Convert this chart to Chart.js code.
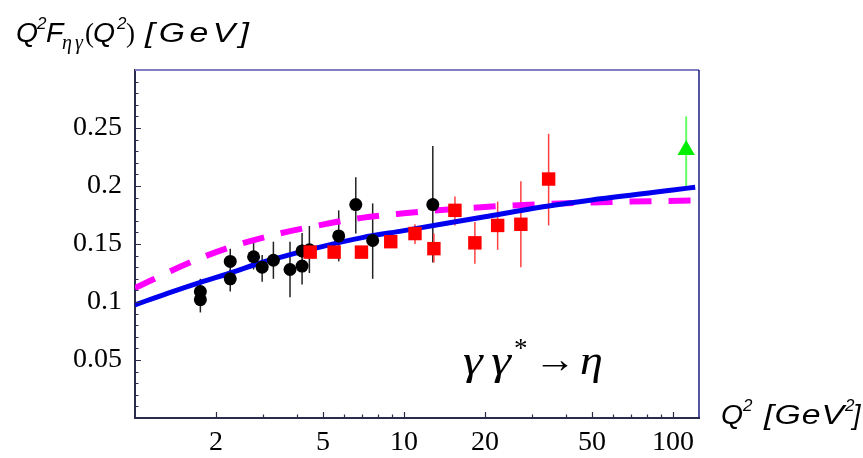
<!DOCTYPE html>
<html>
<head>
    <title>Q2 F eta gamma</title>
    <script src="https://cdn.jsdelivr.net/npm/chart.js"></script>
    <style>
        body { margin: 0; background: #fff; }
        #wrap { width: 863px; height: 458px; }
    </style>
</head>
<body>
    <div id="wrap"><canvas id="fChart" width="863" height="458"></canvas></div>

    <script>
        // tick labels
        const xTicks = [2, 5, 10, 20, 50, 100];
        const xMinor = [3, 4, 6, 7, 8, 9, 30, 40, 60, 70, 80, 90];
        const yTicks = [0.05, 0.1, 0.15, 0.2, 0.25];

        // black circles
        const blackX = [1.75, 1.75, 2.26, 2.26, 2.76, 2.97, 3.27, 3.77, 4.18, 4.18, 4.45, 5.72, 6.62, 7.65, 12.8];
        const blackY = [0.109, 0.102, 0.135, 0.120, 0.139, 0.130, 0.136, 0.128, 0.144, 0.131, 0.145, 0.157, 0.184, 0.153, 0.184];
        const blackHi = [0.120, 0.107, 0.146, 0.128, 0.151, 0.1405, 0.152, 0.152, 0.150, 0.1595, 0.1655, 0.179, 0.2075, 0.185, 0.2345];
        const blackLo = [0.100, 0.091, 0.125, 0.109, 0.128, 0.1175, 0.120, 0.104, 0.138, 0.115, 0.125, 0.135, 0.159, 0.120, 0.134];

        // red squares
        const redX = [4.48, 5.5, 6.95, 8.93, 10.99, 12.92, 15.47, 18.35, 22.3, 27.2, 34.5];
        const redY = [0.143, 0.143, 0.143, 0.152, 0.159, 0.146, 0.179, 0.151, 0.166, 0.167, 0.206];
        const redHi = [0.147, 0.147, 0.147, 0.156, 0.167, 0.159, 0.191, 0.169, 0.1865, 0.204, 0.245];
        const redLo = [0.139, 0.139, 0.139, 0.148, 0.150, 0.134, 0.166, 0.133, 0.145, 0.130, 0.166];

        // green triangle
        const greenX = [112];
        const greenY = [0.231];
        const greenHi = [0.260];
        const greenLo = [0.200];

        // curves
        const blueX = [1, 1.32, 1.75, 2.26, 3, 5, 7, 10, 20, 34, 50, 100, 121];
        const blueY = [0.0975, 0.1075, 0.117, 0.125, 0.1345, 0.148, 0.1555, 0.1615, 0.1735, 0.1825, 0.188, 0.1965, 0.199];
        const pinkX = [1, 1.56, 2.21, 3.24, 4.69, 6.95, 10, 15, 22, 32.4, 47.5, 69.6, 107.6, 125];
        const pinkY = [0.112, 0.133, 0.1465, 0.1575, 0.1655, 0.1725, 0.1765, 0.18, 0.1825, 0.1843, 0.1857, 0.1866, 0.1873, 0.1875];

        const pts = (xs, ys) => xs.map((x, i) => ({ x: x, y: ys[i] }));

        const serif = '"Liberation Serif", "DejaVu Serif", serif';
        const sans = '"Liberation Sans", Arial, sans-serif';

        const errorBars = {
            id: 'errorBars',
            beforeDatasetsDraw(chart) {
                const ctx = chart.ctx;
                const xs = chart.scales.x, ys = chart.scales.y;
                const sets = [
                    [blackX, blackLo, blackHi, '#222', 1.5],
                    [redX, redLo, redHi, '#ff4040', 1.5],
                    [greenX, greenLo, greenHi, '#66ff66', 2]
                ];
                ctx.save();
                sets.forEach(s => {
                    ctx.strokeStyle = s[3];
                    ctx.lineWidth = s[4];
                    s[0].forEach((x, i) => {
                        const px = xs.getPixelForValue(x);
                        ctx.beginPath();
                        ctx.moveTo(px, ys.getPixelForValue(s[1][i]));
                        ctx.lineTo(px, ys.getPixelForValue(s[2][i]));
                        ctx.stroke();
                    });
                });
                ctx.restore();
            }
        };

        // text, optionally stretched a little (k) and spread to a width (w)
        function txt(ctx, s, font, x, y, w, k) {
            ctx.font = font;
            k = k || 1;
            const chars = [...s];
            const ws = chars.map(c => ctx.measureText(c).width * k);
            const total = ws.reduce((a, b) => a + b, 0);
            const gap = (w && chars.length > 1) ? (w - total) / (chars.length - 1) : 0;
            chars.forEach((c, i) => {
                ctx.save();
                ctx.translate(x, y);
                ctx.scale(k, 1);
                ctx.fillText(c, 0, 0);
                ctx.restore();
                x += ws[i] + gap;
            });
        }

        const decor = {
            id: 'decor',
            afterDraw(chart) {
                const ctx = chart.ctx;
                const a = chart.chartArea;
                const xs = chart.scales.x, ys = chart.scales.y;
                ctx.save();
                ctx.strokeStyle = '#2b2b4b';
                ctx.lineWidth = 1.2;
                ctx.beginPath();
                for (let v = 0.01; v < 0.295; v += 0.01) {
                    const py = Math.round(ys.getPixelForValue(v)) + 0.5;
                    const major = Math.abs(Math.round(v * 100) % 5) === 0;
                    ctx.moveTo(a.left, py);
                    ctx.lineTo(a.left + (major ? 6 : 3.5), py);
                }
                xTicks.concat(xMinor).forEach(v => {
                    const px = Math.round(xs.getPixelForValue(v)) + 0.5;
                    const major = xTicks.includes(v);
                    ctx.moveTo(px, a.bottom);
                    ctx.lineTo(px, a.bottom - (major ? 6 : 3.5));
                });
                ctx.stroke();

                ctx.strokeStyle = '#7f7fbf';
                ctx.lineWidth = 2;
                ctx.beginPath();
                ctx.moveTo(a.left, a.top);
                ctx.lineTo(a.right, a.top);
                ctx.stroke();
                ctx.strokeStyle = '#1c1c80';
                ctx.lineWidth = 1.5;
                ctx.beginPath();
                ctx.moveTo(a.right, a.top);
                ctx.lineTo(a.right, a.bottom);
                ctx.stroke();

                ctx.fillStyle = '#000';
                ctx.textBaseline = 'alphabetic';
                const it = 'italic 27px ' + sans;
                const sup = 'italic 17px ' + sans;
                // y title
                txt(ctx, 'Q', it, 16, 42, 0, 1.05);
                txt(ctx, '2', sup, 37, 29);
                txt(ctx, 'F', it, 46, 42, 0, 1.05);
                txt(ctx, '\u03b7\u03b3', 'italic 20px ' + serif, 62, 49, 21);
                txt(ctx, '(', '27px ' + serif, 85, 42);
                txt(ctx, 'Q', it, 93, 42, 0, 1.05);
                txt(ctx, '2', sup, 117, 29);
                txt(ctx, ')', '27px ' + serif, 126, 42);
                txt(ctx, '[GeV]', it, 145, 42, 104, 1.25);
                // x title
                txt(ctx, 'Q', it, 721, 424, 0, 1.05);
                txt(ctx, '2', sup, 743, 411);
                txt(ctx, '[GeV', it, 764, 424, 80, 1.25);
                txt(ctx, '2', sup, 845, 411);
                txt(ctx, ']', it, 853, 424);
                // process label
                const big = 'italic 40px ' + serif;
                txt(ctx, '\u03b3\u03b3', big, 463, 374, 48, 1.25);
                txt(ctx, '*', '27px ' + serif, 514, 357);
                txt(ctx, '\u2192', '38px ' + serif, 534, 372, 0, 1.1);
                txt(ctx, '\u03b7', big, 580, 374, 0, 1.15);
                ctx.restore();
            }
        };

        const ctx = document.getElementById('fChart').getContext('2d');
        const chart = new Chart(ctx, {
            type: 'scatter',
            data: {
                datasets: [
                    {
                        label: 'green',
                        data: pts(greenX, greenY),
                        pointStyle: 'triangle',
                        pointRadius: 10,
                        backgroundColor: '#00ee00',
                        borderWidth: 0,
                        order: 1
                    },
                    {
                        label: 'red',
                        data: pts(redX, redY),
                        pointStyle: 'rect',
                        pointRadius: 9.5,
                        backgroundColor: '#ff0000',
                        borderWidth: 0,
                        order: 1
                    },
                    {
                        label: 'black',
                        data: pts(blackX, blackY),
                        pointStyle: 'circle',
                        pointRadius: 6.5,
                        backgroundColor: '#000',
                        borderWidth: 0,
                        order: 2
                    },
                    {
                        label: 'blue',
                        type: 'line',
                        data: pts(blueX, blueY),
                        borderColor: '#0000ee',
                        borderWidth: 5,
                        pointRadius: 0,
                        fill: false,
                        cubicInterpolationMode: 'monotone',
                        order: 3
                    },
                    {
                        label: 'pink',
                        type: 'line',
                        data: pts(pinkX, pinkY),
                        borderColor: '#ff00ff',
                        borderWidth: 6,
                        borderDash: [22, 17],
                        pointRadius: 0,
                        fill: false,
                        cubicInterpolationMode: 'monotone',
                        order: 4
                    }
                ]
            },
            options: {
                responsive: false,
                animation: false,
                layout: { padding: { top: 70, right: 164, left: 0, bottom: 0 } },
                plugins: {
                    legend: { display: false },
                    tooltip: { enabled: false }
                },
                scales: {
                    x: {
                        type: 'logarithmic',
                        min: 1,
                        max: 125,
                        grid: { display: false, drawTicks: false },
                        border: { display: true, color: '#2b2b4b', width: 2 },
                        afterBuildTicks: s => { s.ticks = xTicks.map(v => ({ value: v })); },
                        afterFit: s => { s.height = 40; },
                        ticks: {
                            autoSkip: false,
                            maxRotation: 0,
                            padding: 8,
                            color: '#000',
                            font: { family: serif, size: 28 },
                            callback: v => String(v)
                        }
                    },
                    y: {
                        min: 0,
                        max: 0.3,
                        grid: { display: false, drawTicks: false },
                        border: { display: true, color: '#2b2b4b', width: 2 },
                        afterBuildTicks: s => { s.ticks = yTicks.map(v => ({ value: v })); },
                        afterFit: s => { s.width = 135; },
                        ticks: {
                            padding: 13,
                            color: '#000',
                            font: { family: serif, size: 28 },
                            callback: v => String(v)
                        }
                    }
                }
            },
            plugins: [errorBars, decor]
        });
    </script>
</body>
</html>
